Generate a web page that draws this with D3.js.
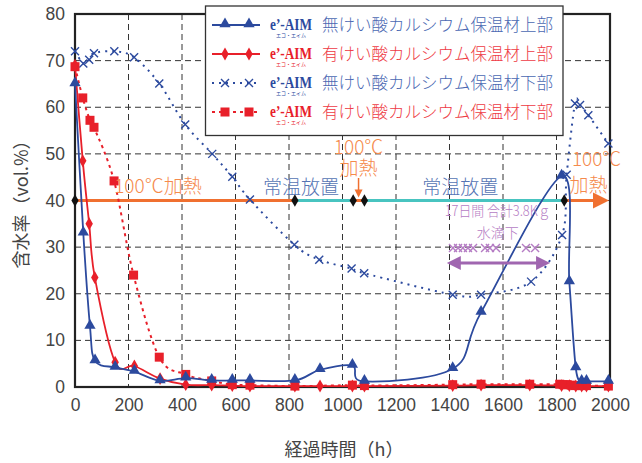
<!DOCTYPE html>
<html>
<head>
<meta charset="utf-8">
<script src="https://cdn.jsdelivr.net/npm/d3@7"></script>
<style>
  body { margin: 0; background: #fff; }
</style>
</head>
<body>
<script>
// 無けい酸カルシウム保温材上部 (blue triangles, solid)
var blueTopX = [0,31,56,75,150,222,318,414,511,588,654,822,916,1037,1082,1412,1518,1819,1848,1872,1894,1912,1994];
var blueTopY = [65,33,13,5.6,4.2,3.3,1.3,1.9,1.4,1.4,1.4,1.4,3.7,4.6,1.2,3.9,16,45.2,22.5,4.1,1.2,1.2,1.2];
// 有けい酸カルシウム保温材上部 (red diamonds, solid)
var redTopX = [0,29,53,74,150,222,318,414,511,588,654,822,916,1037,1082,1412,1518,1700,1819,1848,1872,1894,1912,1994];
var redTopY = [69,48.5,35,23.5,5.3,4.5,1.8,0.5,0.4,0.3,0.2,0.2,0.2,0.2,0.2,0.3,0.4,0.4,0.3,0.3,0.2,0.2,0.2,0.2];
// 無けい酸カルシウム保温材下部 (blue x, dotted)
var blueBotX = [0,31,53,71,147,221,315,412,513,588,654,820,913,1034,1081,1412,1518,1705,1821,1838,1869,1888,1919,1994];
var blueBotY = [72,69.4,70.2,71.6,72,70.7,65.1,56.3,50,45.1,40.2,30.5,27.3,25.4,24.4,19.8,19.8,22.6,32.6,45.5,60.8,60.5,58.3,52.2];
// 有けい酸カルシウム保温材下部 (red squares, dotted)
var redBotX = [0,29,56,71,146,219,315,414,511,588,654,822,1037,1082,1412,1518,1700,1812,1825,1840,1855,1870,1894,1912,1994];
var redBotY = [68.7,62,57.2,55.7,44.2,24,6.4,2.7,1.3,0.5,0.4,0.2,0.4,0.3,0.5,0.6,0.6,0.6,0.5,0.5,0.4,0.3,0.3,0.3,0.2];

var xTicks = [0,200,400,600,800,1000,1200,1400,1600,1800,2000];
var yTicks = [0,10,20,30,40,50,60,70,80];

// 加熱 / 常温放置 phases on the 40 line
var phaseX = [0,822,1040,1082,1829];
var phaseKind = ["heat","room","heat","room"];
var dripX = [1413,1432,1450,1469,1488,1533,1551,1574,1686,1720];
var dripSpan = [1390,1776];

var legendNames = ["無けい酸カルシウム保温材上部","有けい酸カルシウム保温材上部","無けい酸カルシウム保温材下部","有けい酸カルシウム保温材下部"];

var W = 642, H = 463;
var pl = 75, pr = 610, pt = 14, pb = 387;
var blue = "#2c4a9e", red = "#e8202a", orange = "#f07030", teal = "#48c4c0", purple = "#a066b0";
var jp = "'Noto Sans CJK JP', sans-serif";

var svg = d3.select("body").append("svg").attr("width",W).attr("height",H);

var x = d3.scaleLinear().domain([0,2000]).range([pl,pr]);
var y = d3.scaleLinear().domain([0,80]).range([pb,pt]);

// grid
var grid = svg.append("g").attr("stroke","#333").attr("stroke-width",1).attr("stroke-dasharray","6,4");
grid.selectAll("line.gx").data(xTicks.slice(1,-1)).enter().append("line")
	.attr("x1",function(d){return x(d);}).attr("x2",function(d){return x(d);})
	.attr("y1",pt).attr("y2",pb);
grid.selectAll("line.gy").data(yTicks.slice(1,-1)).enter().append("line")
	.attr("y1",function(d){return y(d);}).attr("y2",function(d){return y(d);})
	.attr("x1",pl).attr("x2",pr);

// axes
var xAxis = svg.append("g").attr("transform","translate(0,"+pb+")")
	.call(d3.axisBottom(x).tickValues(xTicks).tickFormat(d3.format("d")).tickSize(0).tickPadding(12));
var yAxis = svg.append("g").attr("transform","translate("+pl+",0)")
	.call(d3.axisLeft(y).tickValues(yTicks).tickFormat(d3.format("d")).tickSize(0).tickPadding(10));
[xAxis,yAxis].forEach(function(a){
	a.select(".domain").remove();
	a.selectAll("text").style("font-family","'Liberation Sans', sans-serif").style("font-size","17.5px").attr("fill","#444");
});

// frame
svg.append("rect").attr("x",pl).attr("y",pt).attr("width",pr-pl).attr("height",pb-pt)
	.attr("fill","none").attr("stroke","#222").attr("stroke-width",2.2);

// phase line at 40
var phaseY = y(40);
for (var i = 0; i < phaseKind.length; i++) {
	svg.append("line").attr("x1",x(phaseX[i])).attr("x2",x(phaseX[i+1]))
		.attr("y1",phaseY).attr("y2",phaseY)
		.attr("stroke", phaseKind[i]=="heat" ? orange : teal).attr("stroke-width",3);
}
svg.append("line").attr("x1",x(1829)).attr("x2",x(2000)-12).attr("y1",phaseY).attr("y2",phaseY)
	.attr("stroke",orange).attr("stroke-width",3);
svg.append("path").attr("d","M"+(x(2000)-1)+","+phaseY+" l-16,-8 l0,16 z").attr("fill",orange);

// series
var line = d3.line().curve(d3.curveCardinal)
	.x(function(d){return x(d[0]);}).y(function(d){return y(d[1]);});
function pts(xs, ys){ return xs.map(function(v,i){return [v, ys[i]];}); }

var series = [
	{p: pts(blueBotX,blueBotY), c: blue, dash: "2,5", w: 2, m: "x"},
	{p: pts(redBotX,redBotY), c: red, dash: "3,4", w: 2, m: "sq"},
	{p: pts(redTopX,redTopY), c: red, dash: null, w: 1.8, m: "dia"},
	{p: pts(blueTopX,blueTopY), c: blue, dash: null, w: 1.8, m: "tri"}
];

function drawMarker(g, m, c, cx, cy){
	if (m == "x") {
		g.append("path").attr("d","M"+(cx-4)+","+(cy-4)+"L"+(cx+4)+","+(cy+4)+"M"+(cx-4)+","+(cy+4)+"L"+(cx+4)+","+(cy-4))
			.attr("stroke",c).attr("stroke-width",1.4).attr("fill","none");
	} else if (m == "sq") {
		g.append("rect").attr("x",cx-4.5).attr("y",cy-4.5).attr("width",9).attr("height",9).attr("fill",c);
	} else if (m == "dia") {
		g.append("path").attr("d",d3.symbol().type(d3.symbolDiamond).size(48)).attr("transform","translate("+cx+","+cy+")").attr("fill",c);
	} else {
		g.append("path").attr("d",d3.symbol().type(d3.symbolTriangle).size(55)).attr("transform","translate("+cx+","+(cy-1)+")").attr("fill",c);
	}
}

series.forEach(function(s){
	var g = svg.append("g");
	g.append("path").attr("d",line(s.p)).attr("fill","none").attr("stroke",s.c)
		.attr("stroke-width",s.w).attr("stroke-dasharray",s.dash);
	s.p.forEach(function(d){ drawMarker(g, s.m, s.c, x(d[0]), y(d[1])); });
});

svg.selectAll("path.pd").data(phaseX).enter().append("path")
	.attr("d",d3.symbol().type(d3.symbolDiamond).size(45))
	.attr("transform",function(d){return "translate("+x(d)+","+phaseY+")";})
	.attr("fill","#111");

// annotations
function label(t, cx, cy, c, size){
	return svg.append("text").attr("x",cx).attr("y",cy).attr("text-anchor","middle")
		.style("font-family",jp).style("font-size",size+"px").style("font-weight",300).attr("fill",c).text(t);
}
label("100℃加熱", x(310), 193, "#f58a4c", 19);
label("常温放置", x(845), 194, "#5574b4", 19);
label("常温放置", x(1440), 194, "#5574b4", 19);
label("100℃", x(1060), 154, "#f58a4c", 19);
label("加熱", x(1060), 175, "#f58a4c", 19);
svg.append("line").attr("x1",x(1060)).attr("x2",x(1060)).attr("y1",178).attr("y2",192).attr("stroke",orange).attr("stroke-width",1.5);
svg.append("path").attr("d","M"+x(1060)+","+(phaseY-3)+" l-4,-8 l8,0 z").attr("fill",orange);
label("100℃", x(1950), 166, "#f58a4c", 19);
label("加熱", x(1920), 192, "#f58a4c", 19);

label("17日間 合計3.8Kｇ", x(1580), 216, "#b57cc4", 14).attr("textLength",106).attr("lengthAdjust","spacingAndGlyphs");
label("水滴下", x(1580), 238, "#b57cc4", 14);
var dy = 248;
dripX.forEach(function(d){
	var cx = x(d);
	svg.append("path").attr("d","M"+(cx-4)+","+(dy-4)+"L"+(cx+4)+","+(dy+4)+"M"+(cx-4)+","+(dy+4)+"L"+(cx+4)+","+(dy-4))
		.attr("stroke","#b57cc4").attr("stroke-width",1.4);
});
var ay = 263;
svg.append("line").attr("x1",x(dripSpan[0])+10).attr("x2",x(dripSpan[1])-10).attr("y1",ay).attr("y2",ay)
	.attr("stroke",purple).attr("stroke-width",3);
svg.append("path").attr("d","M"+x(dripSpan[0])+","+ay+" l14,-7 l0,14 z").attr("fill",purple);
svg.append("path").attr("d","M"+x(dripSpan[1])+","+ay+" l-14,-7 l0,14 z").attr("fill",purple);

// axis titles
svg.append("text").attr("x",344).attr("y",456).attr("text-anchor","middle")
	.style("font-family",jp).style("font-size","18px").attr("fill","#444").text("経過時間（h）");
svg.append("text").attr("transform","translate(28,200) rotate(-90)").attr("text-anchor","middle")
	.style("font-family",jp).style("font-size","18px").attr("fill","#444").text("含水率（vol.%）");

// legend
var lg = svg.append("g");
lg.append("rect").attr("x",205.5).attr("y",6).attr("width",357.5).attr("height",129.5)
	.attr("fill","#fff").attr("stroke","#333").attr("stroke-width",1.3);
var rowC = [blue, red, blue, red];
var rowM = ["tri","dia","x","sq"];
var rowDash = [null, null, "2,5", "3,4"];
var rowTxt = ["#4a68b2", "#ee3a44", "#4a68b2", "#ee3a44"];
legendNames.forEach(function(n, i){
	var ry = 25 + i*29;
	lg.append("line").attr("x1",212).attr("x2",260).attr("y1",ry).attr("y2",ry)
		.attr("stroke",rowC[i]).attr("stroke-width",1.8).attr("stroke-dasharray",rowDash[i]);
	drawMarker(lg, rowM[i], rowC[i], 225, ry);
	drawMarker(lg, rowM[i], rowC[i], 249, ry);
	lg.append("text").attr("x",270).attr("y",ry+5).style("font-family","'Liberation Serif', serif")
		.style("font-weight","bold").style("font-size","16.5px").attr("fill",rowC[i])
		.attr("textLength",42).attr("lengthAdjust","spacingAndGlyphs").text("e’-AIM");
	lg.append("text").attr("x",291).attr("y",ry+12).attr("text-anchor","middle").style("font-family",jp).style("font-size","5px")
		.attr("fill",rowC[i]).text("エコ・エイム");
	lg.append("text").attr("x",322).attr("y",ry+6).style("font-family",jp).style("font-size","16.5px").style("font-weight",300)
		.attr("fill",rowTxt[i]).attr("textLength",231).attr("lengthAdjust","spacingAndGlyphs").text(n);
});
</script>
</body>
</html>
